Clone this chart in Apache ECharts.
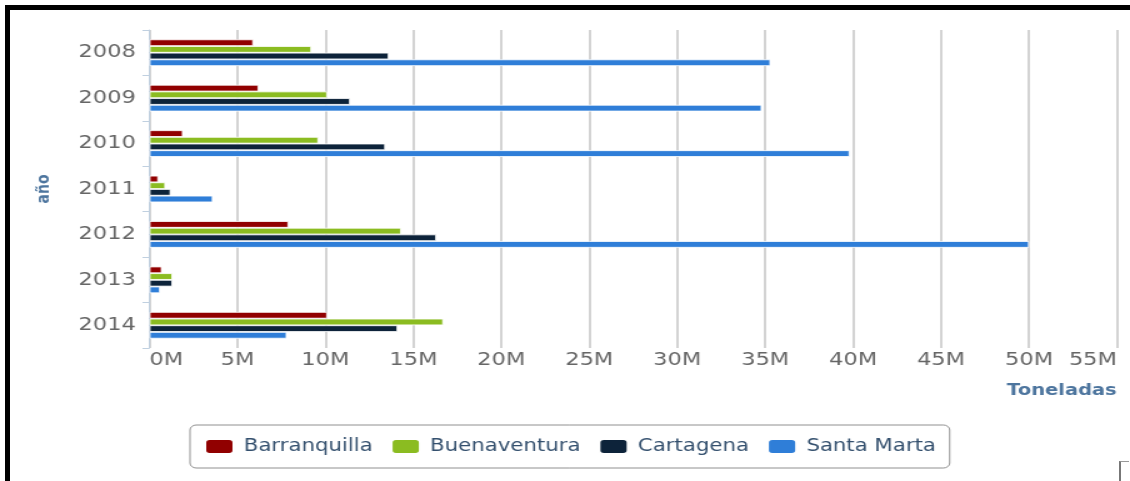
<!DOCTYPE html>
<html>
<head>
<meta charset="utf-8">
<script src="https://cdn.jsdelivr.net/npm/echarts@6/dist/echarts.min.js"></script>
<style>
  html, body { margin: 0; padding: 0; background: #fff; }
  body { width: 1130px; height: 481px; position: relative; overflow: hidden; }
  #frame {
    position: absolute; left: 5px; top: 5px; right: 0; bottom: 0;
    border-top: 5px solid #000; border-left: 5px solid #000;
    box-sizing: border-box; pointer-events: none; z-index: 2;
  }
  #corner {
    position: absolute; left: 1119px; top: 461px; width: 10px; height: 25px;
    border-left: 2px solid #777; border-top: 1px solid #999; box-sizing: border-box;
  }
  /* the chart is laid out narrower and widened horizontally */
  #chart {
    position: absolute; left: 0; top: 0; width: 904px; height: 481px;
    transform: scaleX(1.25); transform-origin: 0 0;
  }
</style>
</head>
<body>
<div id="chart"></div>
<div id="frame"></div>
<div id="corner"></div>
<script>
// Tonnage handled per port and year (millions of tonnes)
const years = ['2008', '2009', '2010', '2011', '2012', '2013', '2014'];
const ports = ['Barranquilla', 'Buenaventura', 'Cartagena', 'Santa Marta'];
const barranquilla = [5.9, 6.2, 1.9, 0.5, 7.9, 0.7, 10.1];
const buenaventura = [9.2, 10.1, 9.6, 0.9, 14.3, 1.3, 16.7];
const cartagena    = [13.6, 11.4, 13.4, 1.2, 16.3, 1.3, 14.1];
const santaMarta   = [35.3, 34.8, 39.8, 3.6, 50.0, 0.6, 7.8];
const portColors = ['#910000', '#8bbc21', '#0d233a', '#2f7ed8'];
const valueMax = 55;
const valueStep = 5;

const seriesValues = [barranquilla, buenaventura, cartagena, santaMarta];
const font = 'DejaVu Sans';
const titleColor = '#4d759e';

const chart = echarts.init(document.getElementById('chart'), null, { renderer: 'canvas' });

chart.setOption({
  animation: false,
  color: portColors,
  grid: { left: 119.6, right: 10.4, top: 30, bottom: 133, containLabel: false, outerBoundsMode: 'none' },
  xAxis: {
    type: 'value',
    min: 0, max: valueMax, interval: valueStep,
    axisLine: { show: false },
    axisTick: { show: false },
    splitLine: { show: true, lineStyle: { color: '#c8c8c8', width: 1.6 } },
    axisLabel: {
      fontFamily: font, fontSize: 18, color: '#666', margin: 3,
      alignMinLabel: 'left', alignMaxLabel: 'right',
      formatter: v => v + 'M'
    }
  },
  yAxis: {
    type: 'category',
    data: years,
    inverse: true,
    name: 'año',
    nameLocation: 'middle',
    nameRotate: 90,
    nameGap: 77,
    nameTextStyle: { fontFamily: font, fontSize: 14, fontWeight: 'bold', color: titleColor },
    axisLine: { show: true, lineStyle: { color: '#c0d0e0', width: 1 } },
    axisTick: { show: true, length: 5.6, lineStyle: { color: '#c0d0e0', width: 1 } },
    axisLabel: { fontFamily: font, fontSize: 18, color: '#666', margin: 11, padding: [0, 0, 6, 0] },
    splitLine: { show: false }
  },
  graphic: [{
    type: 'text',
    right: 10.6,
    top: 383,
    style: { text: 'Toneladas', font: 'bold 15.6px "DejaVu Sans"', fill: titleColor }
  }],
  legend: {
    data: ports,
    left: 152, top: 425,
    orient: 'horizontal',
    icon: 'roundRect',
    itemWidth: 23, itemHeight: 15, itemGap: 14,
    padding: [13, 11],
    borderColor: '#909090', borderWidth: 1, borderRadius: 5,
    textStyle: { fontFamily: font, fontSize: 17, color: '#34506e', padding: [0, 0, 0, 3] }
  },
  series: ports.map((name, i) => ({
    name: name,
    type: 'bar',
    data: seriesValues[i],
    barWidth: 6.67,
    barGap: '0%',
    itemStyle: { borderColor: '#fff', borderWidth: 0.8 }
  }))
});
</script>
</body>
</html>
